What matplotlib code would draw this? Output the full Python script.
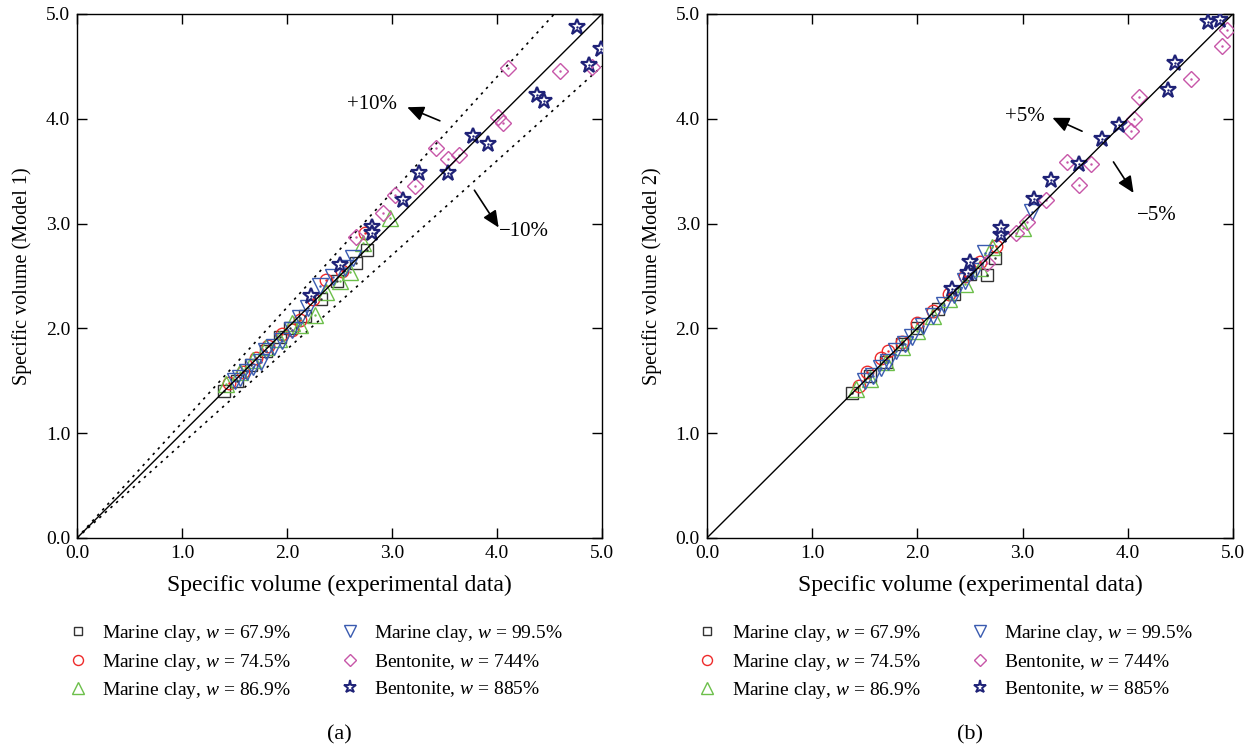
import matplotlib
matplotlib.use('Agg')
import matplotlib.pyplot as plt

plt.rcParams['font.family'] = ['Liberation Serif', 'DejaVu Serif']
plt.rcParams['mathtext.fontset'] = 'custom'
plt.rcParams['mathtext.it'] = 'Liberation Serif:italic'
plt.rcParams['mathtext.rm'] = 'Liberation Serif'

# ---- data, panel (a): Model 1 ----
a_sq_x = [1.40, 1.52, 1.66, 1.80, 1.93, 2.03, 2.17, 2.32, 2.48, 2.66, 2.76]
a_sq_y = [1.40, 1.50, 1.65, 1.78, 1.92, 2.00, 2.12, 2.28, 2.45, 2.62, 2.75]
a_ci_x = [1.45, 1.58, 1.70, 1.82, 1.95, 2.05, 2.12, 2.25, 2.37, 2.52, 2.74]
a_ci_y = [1.48, 1.58, 1.72, 1.83, 1.95, 1.98, 2.08, 2.28, 2.46, 2.55, 2.91]
a_tr_x = [1.42, 1.55, 1.68, 1.80, 1.92, 2.05, 2.12, 2.27, 2.37, 2.50, 2.60, 2.72, 2.98]
a_tr_y = [1.47, 1.58, 1.70, 1.82, 1.90, 2.05, 2.03, 2.13, 2.35, 2.45, 2.54, 2.81, 3.05]
a_td_x = [1.50, 1.55, 1.62, 1.68, 1.75, 1.80, 1.88, 1.95, 2.05, 2.12, 2.20, 2.31, 2.44, 2.55, 2.63]
a_td_y = [1.50, 1.53, 1.58, 1.63, 1.68, 1.78, 1.82, 1.88, 1.98, 2.10, 2.19, 2.40, 2.49, 2.58, 2.67]
a_di_x = [2.66, 2.91, 3.03, 3.22, 3.42, 3.53, 3.64, 4.01, 4.06, 4.10, 4.60, 4.90]
a_di_y = [2.87, 3.10, 3.27, 3.36, 3.72, 3.62, 3.65, 4.02, 3.96, 4.48, 4.46, 4.49]
a_st_x = [2.23, 2.50, 2.81, 2.81, 3.10, 3.26, 3.53, 3.77, 3.91, 4.38, 4.45, 4.76, 4.88, 4.99]
a_st_y = [2.31, 2.60, 2.97, 2.91, 3.22, 3.48, 3.48, 3.84, 3.76, 4.23, 4.17, 4.88, 4.51, 4.67]

# ---- data, panel (b): Model 2 ----
b_sq_x = [1.38, 1.55, 1.70, 1.85, 2.00, 2.20, 2.35, 2.50, 2.66, 2.74]
b_sq_y = [1.38, 1.55, 1.68, 1.85, 2.00, 2.18, 2.33, 2.52, 2.51, 2.67]
b_ci_x = [1.45, 1.52, 1.65, 1.72, 1.85, 2.00, 2.15, 2.30, 2.45, 2.60, 2.75]
b_ci_y = [1.45, 1.58, 1.72, 1.78, 1.87, 2.05, 2.17, 2.33, 2.50, 2.63, 2.79]
b_tr_x = [1.42, 1.55, 1.70, 1.85, 2.00, 2.15, 2.30, 2.45, 2.60, 2.71, 3.00]
b_tr_y = [1.42, 1.52, 1.68, 1.82, 1.97, 2.12, 2.28, 2.42, 2.58, 2.78, 2.96]
b_td_x = [1.50, 1.58, 1.65, 1.72, 1.80, 1.88, 1.95, 2.05, 2.15, 2.25, 2.35, 2.45, 2.55, 2.64, 3.09]
b_td_y = [1.50, 1.55, 1.62, 1.68, 1.78, 1.85, 1.92, 2.02, 2.12, 2.22, 2.32, 2.45, 2.55, 2.72, 3.11]
b_di_x = [2.66, 2.94, 3.04, 3.22, 3.42, 3.54, 3.65, 4.03, 4.06, 4.11, 4.60, 4.90, 4.94]
b_di_y = [2.62, 2.91, 3.01, 3.22, 3.59, 3.37, 3.57, 3.88, 4.00, 4.21, 4.38, 4.69, 4.85]
b_st_x = [2.33, 2.48, 2.50, 2.80, 2.80, 3.11, 3.27, 3.54, 3.76, 3.92, 4.38, 4.45, 4.76, 4.88]
b_st_y = [2.38, 2.53, 2.63, 2.89, 2.96, 3.23, 3.42, 3.57, 3.81, 3.94, 4.27, 4.53, 4.92, 4.94]

labels = ['Marine clay, $w$ = 67.9%', 'Marine clay, $w$ = 74.5%',
          'Marine clay, $w$ = 86.9%', 'Marine clay, $w$ = 99.5%',
          'Bentonite, $w$ = 744%', 'Bentonite, $w$ = 885%']
markers = ['s', 'o', '^', 'v', 'D', '*']
colors = ['#333333', '#ee2a2a', '#6cbf4a', '#3a5bb0', '#c756a8', '#1f2277']
sizes = [8, 9, 11, 11, 8, 12]

fig = plt.figure(figsize=(12.55, 7.45), dpi=100)
ax1 = fig.add_axes([0.0614, 0.2779, 0.4183, 0.7034])
ax2 = fig.add_axes([0.5633, 0.2779, 0.4191, 0.7034])

series_a = [(a_sq_x, a_sq_y), (a_ci_x, a_ci_y), (a_tr_x, a_tr_y),
            (a_td_x, a_td_y), (a_di_x, a_di_y), (a_st_x, a_st_y)]
series_b = [(b_sq_x, b_sq_y), (b_ci_x, b_ci_y), (b_tr_x, b_tr_y),
            (b_td_x, b_td_y), (b_di_x, b_di_y), (b_st_x, b_st_y)]

for ax, series, ylab, cap in [(ax1, series_a, 'Specific volume (Model 1)', '(a)'),
                              (ax2, series_b, 'Specific volume (Model 2)', '(b)')]:
    ax.plot([0, 5], [0, 5], color='black', lw=1.0, zorder=5)
    for (x, y), lab, m, c, s in zip(series, labels, markers, colors, sizes):
        mew = 1.6 if m == '*' else 1.0
        ax.plot(x, y, ls='none', marker=m, ms=s, mfc='white' if m == '*' else 'none',
                mec=c, mew=mew, label=lab, zorder=3)
        # small centre dot, as in the original markers
        ax.plot(x, y, ls='none', marker='.', ms=1.5, color=c, zorder=4)
    ax.set_xlim(0, 5)
    ax.set_ylim(0, 5)
    ax.set_xticks([0, 1, 2, 3, 4, 5])
    ax.set_yticks([0, 1, 2, 3, 4, 5])
    ax.set_xticklabels(['0.0', '1.0', '2.0', '3.0', '4.0', '5.0'])
    ax.set_yticklabels(['0.0', '1.0', '2.0', '3.0', '4.0', '5.0'])
    ax.tick_params(direction='in', top=True, right=True, length=7, width=1,
                   labelsize=14, pad=5)
    for sp in ax.spines.values():
        sp.set_linewidth(1.0)
    ax.set_xlabel('Specific volume (experimental data)', fontsize=17, labelpad=9)
    ax.set_ylabel(ylab, fontsize=14.5, labelpad=10)
    leg_handles = [plt.Line2D([], [], ls='none', marker=m, ms=s * 0.8,
                              mfc='white' if m == '*' else 'none', mec=c,
                              mew=1.4 if m == '*' else 1.0)
                   for m, c, s in zip(markers, colors, sizes)]
    ax.legend(leg_handles, labels, ncol=2, frameon=False, fontsize=14,
              loc='upper left', bbox_to_anchor=(-0.036, -0.148),
              handlelength=1.2, handletextpad=0.64, columnspacing=2.46,
              labelspacing=0.38, borderaxespad=0)
    ax.text(0.5, -0.358, cap, transform=ax.transAxes, ha='center', va='top',
            fontsize=16)

# +/-10% bands in (a)
ax1.plot([0, 5 / 1.1], [0, 5], ls=(0, (1.5, 3)), color='black', lw=1.2)
ax1.plot([0, 5], [0, 4.5], ls=(0, (1.5, 3)), color='black', lw=1.2)

arrow = dict(arrowstyle='-|>,head_length=1.0,head_width=0.45', color='black', lw=1.2)
ax1.annotate('', xy=(3.12, 4.12), xytext=(3.48, 3.97), arrowprops=arrow)
ax1.annotate('', xy=(4.03, 2.94), xytext=(3.77, 3.34), arrowprops=arrow)
ax1.text(2.81, 4.14, '+10%', ha='center', va='center', fontsize=15)
ax1.text(4.26, 2.92, '\u221210%', ha='center', va='center', fontsize=15)

ax2.annotate('', xy=(3.26, 4.02), xytext=(3.59, 3.87), arrowprops=arrow)
ax2.annotate('', xy=(4.07, 3.27), xytext=(3.85, 3.61), arrowprops=arrow)
ax2.text(3.02, 4.02, '+5%', ha='center', va='center', fontsize=15)
ax2.text(4.28, 3.08, '\u22125%', ha='center', va='center', fontsize=15)

plt.savefig('out.png', dpi=100)
